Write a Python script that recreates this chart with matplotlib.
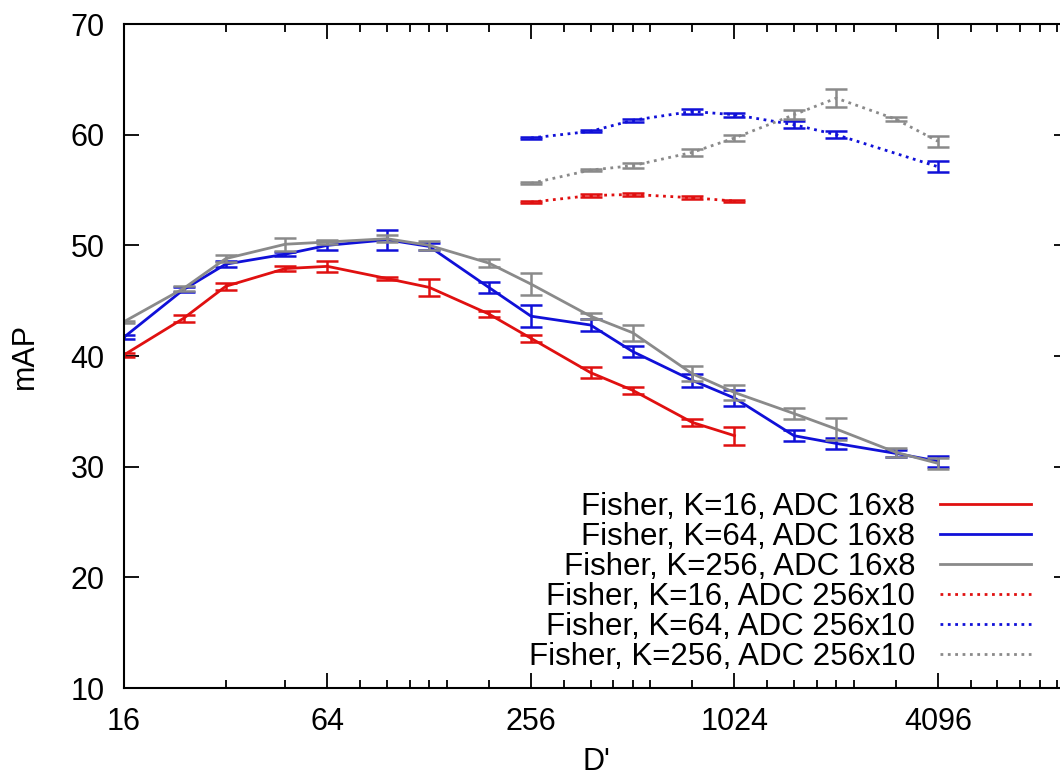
import matplotlib
matplotlib.use('Agg')
import matplotlib.pyplot as plt
from matplotlib.ticker import FixedLocator, NullFormatter

plt.rcParams['font.family'] = ['Liberation Sans', 'DejaVu Sans']
plt.rcParams['font.size'] = 22

# D' values used in the experiments
dims = [16, 24, 32, 48, 64, 96, 128, 192, 256, 384, 512, 768, 1024, 1536, 2048, 3072, 4096]

# ADC 16x8
k16_x = dims[:13]
k16_map = [40.1, 43.4, 46.3, 47.9, 48.1, 47.0, 46.2, 43.8, 41.6, 38.5, 36.9, 34.0, 32.8]
k16_err = [0.2, 0.3, 0.3, 0.2, 0.5, 0.15, 0.8, 0.3, 0.3, 0.5, 0.3, 0.3, 0.8]

k64_x = dims
k64_map = [41.7, 46.0, 48.3, 49.2, 50.0, 50.5, 49.9, 46.2, 43.6, 42.8, 40.4, 37.8, 36.2, 32.8, 32.1, 31.2, 30.5]
k64_err = [0.2, 0.2, 0.3, 0.2, 0.4, 0.9, 0.3, 0.5, 1.0, 0.5, 0.5, 0.6, 0.7, 0.5, 0.5, 0.3, 0.5]

k256_x = dims
k256_map = [43.1, 46.1, 48.8, 50.1, 50.3, 50.6, 50.0, 48.4, 46.5, 43.6, 42.1, 38.4, 36.7, 34.8, 33.4, 31.3, 30.3]
k256_err = [0.1, 0.2, 0.3, 0.6, 0.2, 0.3, 0.4, 0.4, 1.0, 0.3, 0.7, 0.7, 0.7, 0.5, 1.0, 0.4, 0.5]

# ADC 256x10
k16b_x = [256, 384, 512, 768, 1024]
k16b_map = [53.9, 54.5, 54.6, 54.3, 54.0]
k16b_err = [0.1, 0.15, 0.1, 0.15, 0.1]

k64b_x = [256, 384, 512, 768, 1024, 1536, 2048, 4096]
k64b_map = [59.7, 60.3, 61.3, 62.1, 61.8, 60.9, 60.0, 57.1]
k64b_err = [0.1, 0.1, 0.15, 0.2, 0.2, 0.3, 0.3, 0.5]

k256b_x = [256, 384, 512, 768, 1024, 1536, 2048, 3072, 4096]
k256b_map = [55.6, 56.8, 57.2, 58.4, 59.7, 61.8, 63.3, 61.4, 59.4]
k256b_err = [0.1, 0.1, 0.2, 0.3, 0.3, 0.4, 0.8, 0.2, 0.5]

labels = ['Fisher, K=16, ADC 16x8', 'Fisher, K=64, ADC 16x8', 'Fisher, K=256, ADC 16x8',
          'Fisher, K=16, ADC 256x10', 'Fisher, K=64, ADC 256x10', 'Fisher, K=256, ADC 256x10']

red = '#e01010'
blue = '#1010d8'
gray = '#8a8a8a'

fig = plt.figure(figsize=(10.6, 7.81), dpi=100)
# axes run a bit past the right edge, like the cropped original
ax = fig.add_axes([124 / 1060, 93 / 781, 945 / 1060, 664 / 781])

series = [
    (k16_x, k16_map, k16_err, red, '-'),
    (k64_x, k64_map, k64_err, blue, '-'),
    (k256_x, k256_map, k256_err, gray, '-'),
    (k16b_x, k16b_map, k16b_err, red, ':'),
    (k64b_x, k64b_map, k64b_err, blue, ':'),
    (k256b_x, k256b_map, k256b_err, gray, ':'),
]

for (x, y, e, c, ls), lab in zip(series, labels):
    ax.plot(x, y, color=c, ls=ls, lw=2, label=lab)
    ax.errorbar(x, y, yerr=e, fmt='none', ecolor=c, elinewidth=1.8, capsize=8, capthick=1.8)

ax.set_xscale('log', base=2)
ax.set_xlim(16, 10000)
ax.set_ylim(10, 70)

ax.xaxis.set_major_locator(FixedLocator([16, 64, 256, 1024, 4096]))
ax.set_xticklabels(['16', '64', '256', '1024', '4096'])
minor = [16 * f for f in (2, 3)]
for b in (64, 256, 1024, 4096):
    minor += [b * f for f in (1.25, 1.5, 1.75, 2, 2.25, 3)]
ax.xaxis.set_minor_locator(FixedLocator(minor))
ax.xaxis.set_minor_formatter(NullFormatter())
ax.set_yticks(range(10, 71, 10))

ax.tick_params(axis='both', which='both', direction='in', top=True, right=True, width=1.3)
ax.tick_params(axis='both', which='major', length=11)
ax.tick_params(axis='both', which='minor', length=5.5)
ax.tick_params(axis='x', which='major', pad=14)
ax.tick_params(axis='y', which='major', pad=14)
for s in ax.spines.values():
    s.set_linewidth(1.5)

ax.set_xlabel("D'", labelpad=7)
ax.set_ylabel('mAP', labelpad=22)

ax.legend(loc='lower right', bbox_to_anchor=(1031 / 1060, 109 / 781), bbox_transform=fig.transFigure,
          frameon=False, markerfirst=False, handlelength=2.9, handletextpad=0.8,
          labelspacing=0.0, borderpad=0, borderaxespad=0, fontsize=22.5)

fig.savefig('out.png', dpi=100)
